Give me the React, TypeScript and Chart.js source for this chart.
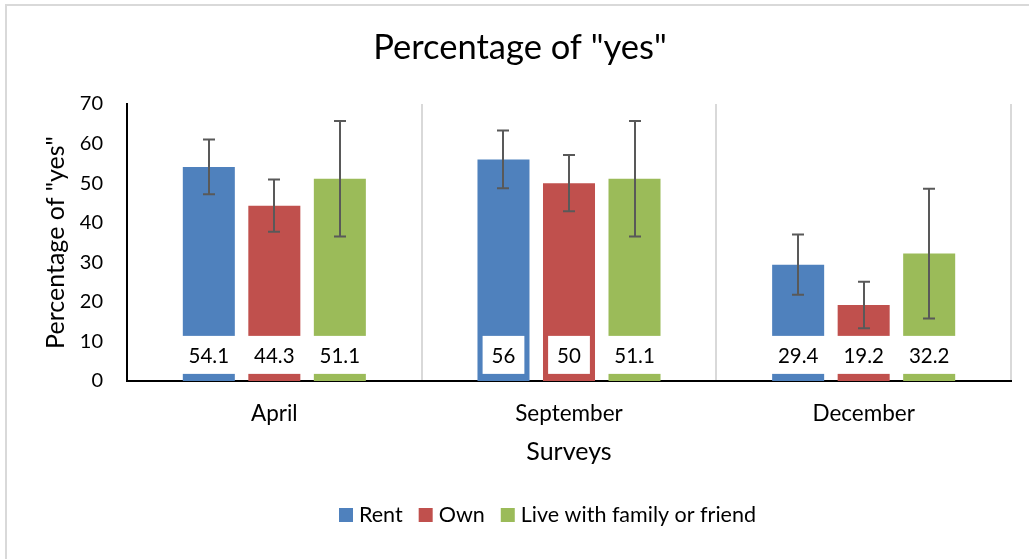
import { useEffect, useRef } from 'react';
import { Chart, registerables } from 'chart.js';

Chart.register(...registerables);

const categories = ['April', 'September', 'December'];
const seriesNames = ['Rent', 'Own', 'Live with family or friend'];
const rentValues = [54.1, 56, 29.4];
const ownValues = [44.3, 50, 19.2];
const liveValues = [51.1, 51.1, 32.2];
const rentErrors = [6.9, 7.3, 7.6];
const ownErrors = [6.6, 7.1, 5.9];
const liveErrors = [14.6, 14.6, 16.4];
const seriesColors = ['#4f81bd', '#c0504d', '#9bbb59'];
const yMin = 0;
const yMax = 70;
const yStep = 10;
const chartTitle = 'Percentage of "yes"';
const xAxisTitle = 'Surveys';
const yAxisTitle = 'Percentage of "yes"';

const FONT = 'Lato, "Open Sans", sans-serif';
const LABEL_CENTER_VALUE = 6.6;

const allValues = [rentValues, ownValues, liveValues];
const allErrors = [rentErrors, ownErrors, liveErrors];

const decorPlugin = {
  id: 'decor',
  beforeDraw(chart: any) {
    const { ctx, width, height } = chart;
    ctx.save();
    ctx.fillStyle = '#ffffff';
    ctx.fillRect(0, 0, width, height);
    ctx.strokeStyle = '#d9d9d9';
    ctx.lineWidth = 2;
    ctx.beginPath();
    ctx.moveTo(6, height);
    ctx.lineTo(6, 5);
    ctx.lineTo(width, 5);
    ctx.stroke();
    ctx.restore();
  },
  afterDatasetsDraw(chart: any) {
    const { ctx } = chart;
    const yScale = chart.scales.y;
    ctx.save();
    // error bars
    allErrors.forEach((errs, di) => {
      const meta = chart.getDatasetMeta(di);
      meta.data.forEach((bar: any, i: number) => {
        const v = allValues[di][i];
        const e = errs[i];
        const x = Math.round(bar.x);
        const yTop = yScale.getPixelForValue(v + e);
        const yBot = yScale.getPixelForValue(v - e);
        ctx.strokeStyle = '#595959';
        ctx.lineWidth = 2;
        ctx.beginPath();
        ctx.moveTo(x, yTop);
        ctx.lineTo(x, yBot);
        ctx.moveTo(x - 6, yTop);
        ctx.lineTo(x + 6, yTop);
        ctx.moveTo(x - 6, yBot);
        ctx.lineTo(x + 6, yBot);
        ctx.stroke();
      });
    });
    // data labels in white boxes
    ctx.font = `20.5px ${FONT}`;
    ctx.textAlign = 'center';
    ctx.textBaseline = 'alphabetic';
    const cy = yScale.getPixelForValue(LABEL_CENTER_VALUE);
    allValues.forEach((vals, di) => {
      const meta = chart.getDatasetMeta(di);
      meta.data.forEach((bar: any, i: number) => {
        const txt = String(vals[i]);
        const w = ctx.measureText(txt).width + 18;
        ctx.fillStyle = '#ffffff';
        ctx.fillRect(bar.x - w / 2, cy - 19, w, 38);
        ctx.fillStyle = '#000000';
        ctx.fillText(txt, bar.x, cy + 8.5);
      });
    });
    ctx.restore();
  },
  afterDraw(chart: any) {
    const { ctx, chartArea } = chart;
    ctx.save();
    ctx.fillStyle = '#000000';
    ctx.textBaseline = 'alphabetic';
    ctx.textAlign = 'center';
    // title
    ctx.font = `34.5px ${FONT}`;
    ctx.fillText(chartTitle, 520, 59);
    // x axis title
    ctx.font = `25px ${FONT}`;
    ctx.fillText(xAxisTitle, (chartArea.left + chartArea.right) / 2, 460);
    // y axis title
    ctx.save();
    ctx.translate(64, (chartArea.top + chartArea.bottom) / 2);
    ctx.rotate(-Math.PI / 2);
    ctx.fillText(yAxisTitle, 0, 0);
    ctx.restore();
    // legend
    ctx.font = `21.5px ${FONT}`;
    ctx.textAlign = 'left';
    const box = 14;
    const gapBoxText = 6;
    const gapItems = 16;
    let x = 339;
    const baseline = 522;
    seriesNames.forEach((n, i) => {
      ctx.fillStyle = seriesColors[i];
      ctx.fillRect(x, baseline - box, box, box);
      x += box + gapBoxText;
      ctx.fillStyle = '#000000';
      ctx.fillText(n, x, baseline);
      x += ctx.measureText(n).width + gapItems;
    });
    ctx.restore();
  },
};

export default function App() {
  const canvasRef = useRef<HTMLCanvasElement | null>(null);

  useEffect(() => {
    const canvas = canvasRef.current;
    if (!canvas) return;
    const chart = new Chart(canvas, {
      type: 'bar',
      data: {
        labels: categories,
        datasets: seriesNames.map((name, i) => ({
          label: name,
          data: allValues[i],
          backgroundColor: seriesColors[i],
          borderWidth: 0,
          barPercentage: 0.794,
          categoryPercentage: 0.667,
        })),
      },
      options: {
        animation: false,
        responsive: false,
        devicePixelRatio: 1,
        layout: { padding: { top: 104, left: 0, right: 18, bottom: 0 } },
        plugins: {
          legend: { display: false },
          title: { display: false },
          tooltip: { enabled: false },
        },
        scales: {
          x: {
            grid: { display: true, color: '#d9d9d9', lineWidth: 2, drawTicks: false, offset: true },
            border: { display: true, color: '#000000', width: 2 },
            ticks: { font: { family: FONT, size: 22.5 }, color: '#000000', padding: 19 },
            afterFit: (s: any) => {
              s.height = 178;
            },
          },
          y: {
            min: yMin,
            max: yMax,
            grid: { display: false, drawTicks: false },
            border: { display: true, color: '#000000', width: 2 },
            ticks: { stepSize: yStep, font: { family: FONT, size: 20 }, color: '#000000', padding: 24 },
            afterFit: (s: any) => {
              s.width = 127;
            },
          },
        },
      },
      plugins: [decorPlugin],
    });
    return () => chart.destroy();
  }, []);

  return (
    <div style={{ position: 'fixed', left: 0, top: 0, width: 1029, height: 559, background: '#fff' }}>
      <canvas ref={canvasRef} width={1029} height={559} style={{ display: 'block' }} />
    </div>
  );
}
